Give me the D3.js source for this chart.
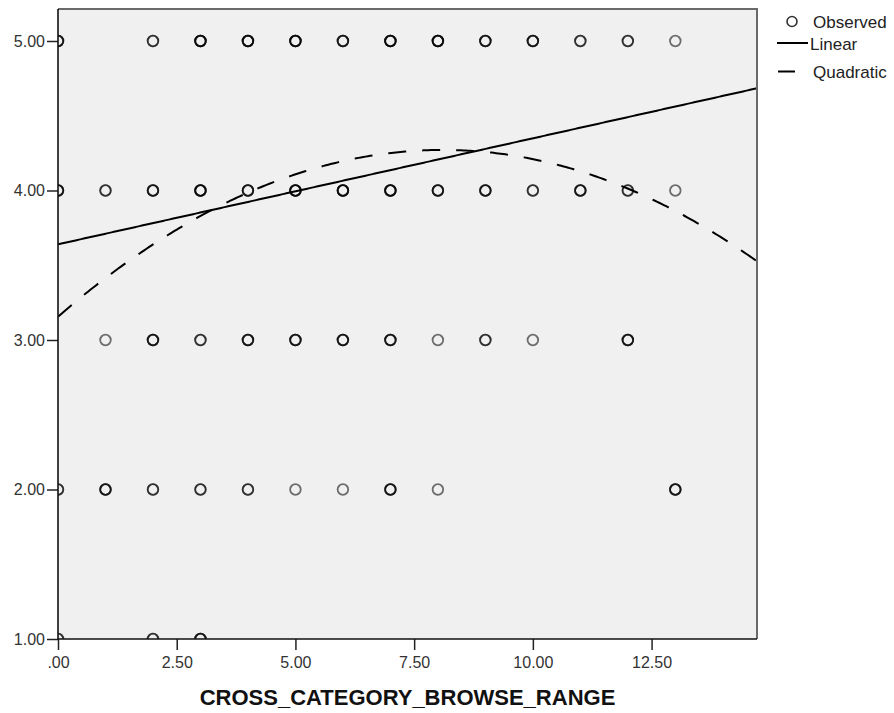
<!DOCTYPE html>
<html>
<head>
<meta charset="utf-8">
<script src="https://cdn.jsdelivr.net/npm/d3@7"></script>
<style>
  html, body { margin: 0; padding: 0; background: #fff; }
  svg { display: block; font-family: "Liberation Sans", Arial, sans-serif; }
</style>
</head>
<body>
<svg id="chart" width="894" height="713"></svg>
<script>
// ---- data ----
const obsX =     [0,2,3,4,5,6,7,8,9,10,11,12,13,  0,1,2,3,4,5,6,7,8,9,10,11,12,13,  1,2,3,4,5,6,7,8,9,10,12,  0,1,2,3,4,5,6,7,8,13,  0,2,3];
const obsY =     [5,5,5,5,5,5,5,5,5,5,5,5,5,      4,4,4,4,4,4,4,4,4,4,4,4,4,4,      3,3,3,3,3,3,3,3,3,3,3,     2,2,2,2,2,2,2,2,2,2,     1,1,1];
const obsCount = [3,2,4,4,4,3,4,4,3,3,2,2,1,      3,2,3,4,3,4,4,4,3,3,2,3,2,1,      1,3,2,3,3,3,3,1,2,1,3,     2,3,2,2,2,1,1,3,1,3,     2,2,3];
const linearCoef = [3.640, 0.0709];            // b0, b1
const quadCoef = [3.156, 0.2754, -0.0170];     // b0, b1, b2
const xTicks = [0, 2.5, 5, 7.5, 10, 12.5];
const xTickLabels = [".00", "2.50", "5.00", "7.50", "10.00", "12.50"];
const yTicks = [1, 2, 3, 4, 5];
const yTickLabels = ["1.00", "2.00", "3.00", "4.00", "5.00"];
const xDomain = [0, 14.72];
const yDomain = [1, 5.214];
const xTitle = "CROSS_CATEGORY_BROWSE_RANGE";
const legendLabels = ["Observed", "Linear", "Quadratic"];

// ---- layout ----
const L = 58, R = 757, T = 9, B = 639;
const svg = d3.select("#chart");
const x = d3.scaleLinear().domain(xDomain).range([L, R]);
const y = d3.scaleLinear().domain(yDomain).range([B, T]);

svg.append("defs").append("clipPath").attr("id", "plotclip")
  .append("rect").attr("x", L).attr("y", T).attr("width", R - L).attr("height", B - T);

// plot background
svg.append("rect").attr("x", L).attr("y", T).attr("width", R - L).attr("height", B - T)
  .attr("fill", "#f0f0f0");

const plot = svg.append("g").attr("clip-path", "url(#plotclip)");

// observed points (overlapping draws darken, as in the original)
const pts = [];
obsX.forEach((v, i) => { for (let k = 0; k < obsCount[i]; k++) pts.push({x: v, y: obsY[i]}); });
plot.selectAll("circle.obs").data(pts).join("circle")
  .attr("class", "obs")
  .attr("cx", d => x(d.x)).attr("cy", d => y(d.y)).attr("r", 5.3)
  .attr("fill", "none").attr("stroke", "#000").attr("stroke-opacity", 0.55).attr("stroke-width", 1.8);

// fit lines
const xs = d3.range(0, 301).map(i => xDomain[0] + (xDomain[1] - xDomain[0]) * i / 300);
const line = d3.line().x(d => x(d[0])).y(d => y(d[1]));
plot.append("path")
  .attr("d", line(xs.map(v => [v, linearCoef[0] + linearCoef[1] * v])))
  .attr("fill", "none").attr("stroke", "#000").attr("stroke-width", 2);
plot.append("path")
  .attr("d", line(xs.map(v => [v, quadCoef[0] + quadCoef[1] * v + quadCoef[2] * v * v])))
  .attr("fill", "none").attr("stroke", "#000").attr("stroke-width", 2)
  .attr("stroke-dasharray", "18,16");

// frame: top & right grey
svg.append("path").attr("d", `M${L},${T}H${R}V${B}`)
  .attr("fill", "none").attr("stroke", "#6a6a6a").attr("stroke-width", 2);

// axes
const xAxis = d3.axisBottom(x).tickValues(xTicks).tickSize(11).tickPadding(7)
  .tickFormat((d, i) => xTickLabels[i]);
const gx = svg.append("g").attr("transform", `translate(0,${B})`).call(xAxis);
const yAxis = d3.axisLeft(y).tickValues(yTicks).tickSize(11).tickPadding(2)
  .tickFormat((d, i) => yTickLabels[i]);
const gy = svg.append("g").attr("transform", `translate(${L},0)`).call(yAxis);
[gx, gy].forEach(g => {
  g.select(".domain").remove();
  g.selectAll(".tick line").attr("stroke", "#222").attr("stroke-width", 1.5);
  g.selectAll(".tick text").attr("fill", "#333").style("font-size", "16px")
    .style("font-family", "'Liberation Sans', Arial, sans-serif");
});
svg.append("line").attr("x1", L).attr("x2", L).attr("y1", T).attr("y2", B)
  .attr("stroke", "#111").attr("stroke-width", 1.6);
svg.append("line").attr("x1", L).attr("x2", R).attr("y1", B).attr("y2", B)
  .attr("stroke", "#111").attr("stroke-width", 1.6);

// axis title
svg.append("text").attr("x", (L + R) / 2).attr("y", 705).attr("text-anchor", "middle")
  .style("font-size", "22px").style("font-weight", "bold").attr("fill", "#111")
  .text(xTitle);

// legend
const lg = svg.append("g").style("font-size", "17px").attr("fill", "#222");
lg.append("circle").attr("cx", 792).attr("cy", 21.5).attr("r", 5)
  .attr("fill", "none").attr("stroke", "#333").attr("stroke-width", 1.6);
lg.append("text").attr("x", 813).attr("y", 27.5).text(legendLabels[0]);
lg.append("line").attr("x1", 777).attr("x2", 808).attr("y1", 43).attr("y2", 43)
  .attr("stroke", "#000").attr("stroke-width", 2);
lg.append("text").attr("x", 810).attr("y", 49.5).text(legendLabels[1]);
lg.append("line").attr("x1", 778).attr("x2", 795).attr("y1", 71.5).attr("y2", 71.5)
  .attr("stroke", "#000").attr("stroke-width", 2);
lg.append("text").attr("x", 813).attr("y", 77.5).text(legendLabels[2]);
</script>
</body>
</html>
